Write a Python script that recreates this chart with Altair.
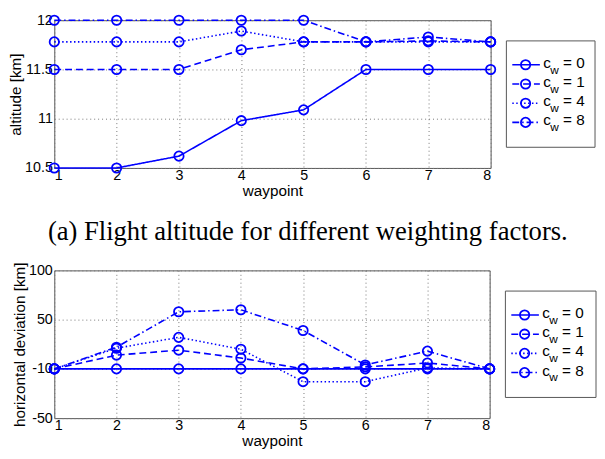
import altair as alt
import pandas as pd

BLUE = "#0000ff"

waypoints = [1, 2, 3, 4, 5, 6, 7, 8]
cw_values = [0, 1, 4, 8]
series_names = ["cw0", "cw1", "cw4", "cw8"]

# altitude [km]
alt_cw0 = [10.5, 10.5, 10.62, 10.98, 11.09, 11.5, 11.5, 11.5]
alt_cw1 = [11.5, 11.5, 11.5, 11.70, 11.78, 11.78, 11.79, 11.78]
alt_cw4 = [11.78, 11.78, 11.78, 11.89, 11.78, 11.78, 11.78, 11.78]
alt_cw8 = [12.0, 12.0, 12.0, 12.0, 12.0, 11.78, 11.83, 11.78]

# horizontal deviation [km]
dev_cw0 = [0, 0, 0, 0, 0, 0, 0, 0]
dev_cw1 = [0, 14, 19, 11, 0, 2, 6, 0]
dev_cw4 = [0, 21, 32, 20, -13, -13, 1, 0]
dev_cw8 = [0, 22, 58, 60, 39, 4, 18, 0]

alt_yticks = [10.5, 11, 11.5, 12]
dev_yticks = [-50, 0, 50, 100]
dev_ytick_labels = ["-50", "-10", "50", "100"]

dash_styles = [[1, 0], [7, 4], [1.5, 2.5], [7, 3, 1.5, 3]]

caption = "(a)  Flight altitude for different weighting factors."


def long_df(lists):
    rows = []
    for name, vals in zip(series_names, lists):
        for w, v in zip(waypoints, vals):
            rows.append({"waypoint": w, "value": v, "series": name})
    return pd.DataFrame(rows)


alt_df = long_df([alt_cw0, alt_cw1, alt_cw4, alt_cw8])
dev_df = long_df([dev_cw0, dev_cw1, dev_cw4, dev_cw8])

dash_scale = alt.Scale(domain=series_names, range=dash_styles)

PLOT_H = 150


def panel(df, ytitle, ydomain, yticks, width, label_expr=None):
    axis_kw = dict(values=yticks, title=ytitle, titlePadding=1, labelPadding=2)
    if label_expr:
        axis_kw["labelExpr"] = label_expr
    else:
        axis_kw["format"] = "~g"
    x = alt.X("waypoint:Q", scale=alt.Scale(domain=[1, 8], nice=False),
              axis=alt.Axis(values=waypoints, title="waypoint", titlePadding=1, labelPadding=1))
    y = alt.Y("value:Q", scale=alt.Scale(domain=ydomain, nice=False, zero=False),
              axis=alt.Axis(**axis_kw))
    base = alt.Chart(df)
    lines = base.mark_line(color=BLUE, strokeWidth=1.6).encode(
        x=x, y=y, strokeDash=alt.StrokeDash("series:N", scale=dash_scale, legend=None))
    pts = base.mark_point(shape="circle", filled=False, color=BLUE, size=90,
                          strokeWidth=1.8, opacity=1).encode(x=x, y=y)
    return alt.layer(lines, pts).properties(width=width, height=PLOT_H)


legend_df = pd.DataFrame({"series": series_names,
                          "eq": ["= " + str(v) for v in cw_values]})


def legend(width):
    yl = alt.Y("series:N", scale=alt.Scale(domain=series_names, range=[35.5, 113.5], padding=0),
               axis=None)
    box = alt.Chart(alt.Data(values=[{"a": 1}])).mark_rect(
        fill="white", stroke="#555555", strokeWidth=1).encode(
        x=alt.value(0), x2=alt.value(width), y=alt.value(21), y2=alt.value(129))
    base = alt.Chart(legend_df)
    rule = base.mark_rule(color=BLUE, strokeWidth=1.6).encode(
        x=alt.value(6), x2=alt.value(34), y=yl,
        strokeDash=alt.StrokeDash("series:N", scale=dash_scale, legend=None))
    pt = base.mark_point(shape="circle", filled=False, color=BLUE, size=90,
                         strokeWidth=1.8, opacity=1).encode(x=alt.value(19.5), y=yl)
    tc = base.mark_text(align="left", baseline="middle", fontSize=15.5, dy=-2,
                        font="Liberation Sans", color="black").encode(
        x=alt.value(37.5), y=yl, text=alt.value("c"))
    tw = base.mark_text(align="left", baseline="middle", fontSize=12, dy=5,
                        font="Liberation Sans", color="black").encode(
        x=alt.value(44.5), y=yl, text=alt.value("w"))
    teq = base.mark_text(align="left", baseline="middle", fontSize=15.5, dy=-2,
                         font="Liberation Sans", color="black").encode(
        x=alt.value(57.5), y=yl, text="eq:N")
    return alt.layer(box, rule, pt, tc, tw, teq).properties(
        width=width, height=PLOT_H, view=alt.ViewBackground(stroke=None))


label_expr = "{" + ", ".join(f"'{v}': '{l}'" for v, l in zip(dev_yticks, dev_ytick_labels)) + "}[datum.value]"

top = alt.hconcat(
    panel(alt_df, "altitude [km]", [10.5, 12], alt_yticks, 443),
    legend(90),
    spacing=6,
).properties(title=alt.TitleParams(text=caption, orient="bottom", font="Liberation Serif",
                                   fontSize=27, fontWeight="normal", color="black",
                                   anchor="middle", offset=21, dx=6))

bottom = alt.hconcat(
    panel(dev_df, "horizontal deviation [km]", [-50, 100], dev_yticks, 442, label_expr),
    legend(92),
    spacing=6,
)

chart = alt.vconcat(top, bottom, spacing=15).properties(
    padding={"left": 0, "top": 0, "right": 0, "bottom": 0}
).configure_axis(
    labelFont="Liberation Sans", titleFont="Liberation Sans",
    labelFontSize=14.5, titleFontSize=15.5, titleFontWeight="normal",
    labelColor="black", titleColor="black", domain=False, ticks=False,
    gridColor="#777777", gridDash=[1, 3], gridWidth=1, gridOpacity=1,
).configure_view(stroke="#555555", strokeWidth=1)

chart.save("out.html", embed_options={"renderer": "svg", "actions": False})
